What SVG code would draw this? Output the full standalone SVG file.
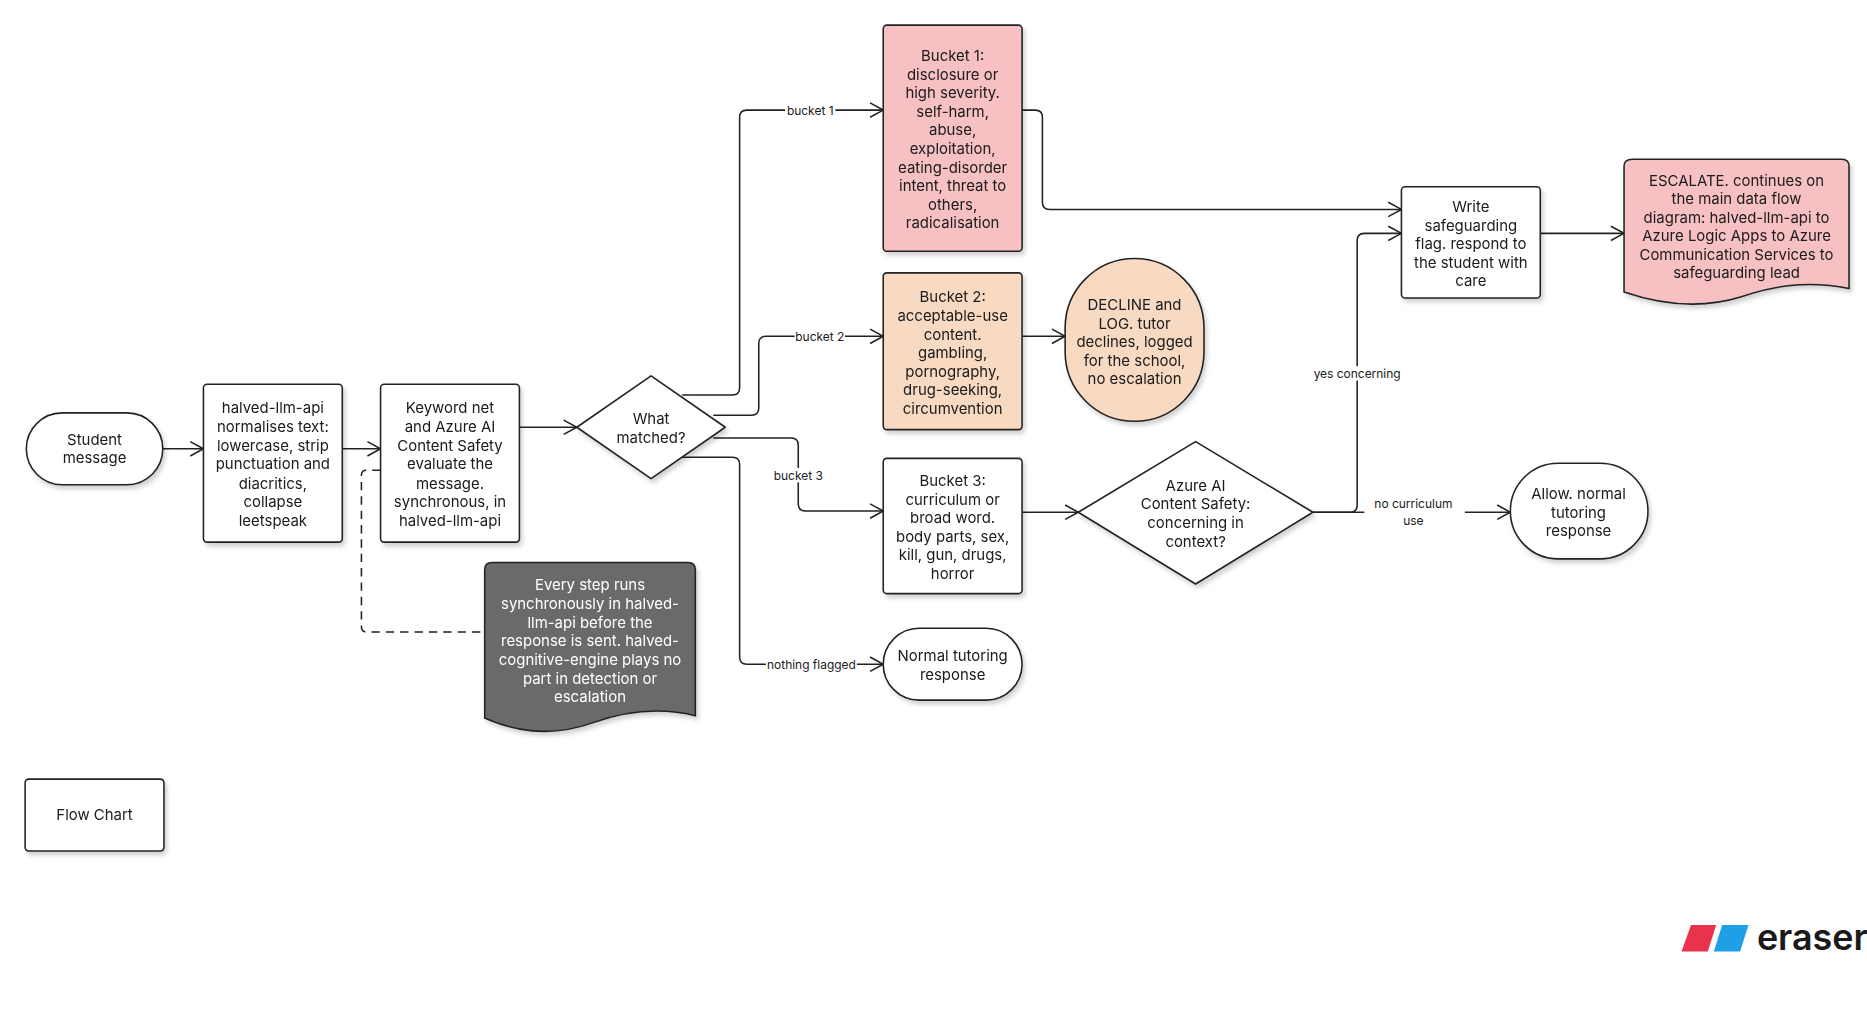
<svg xmlns="http://www.w3.org/2000/svg" width="1867" height="1026" viewBox="0 0 1867 1026">
<style>
.n{stroke:#222;stroke-width:1.3;}
.t{font-family:Inter,"Noto Sans",sans-serif;font-size:12.5px;fill:#1a1a1a;text-anchor:middle;dominant-baseline:central;}
.l{font-family:Inter,"Noto Sans",sans-serif;font-size:10px;fill:#1a1a1a;text-anchor:middle;dominant-baseline:central;}
.c{fill:none;stroke:#222;stroke-width:1.3;}
</style>
<defs>
<marker id="a" markerWidth="14" markerHeight="14" refX="12" refY="7" orient="auto" markerUnits="userSpaceOnUse"><path d="M1,1 L12,7 L1,13" fill="none" stroke="#222" stroke-width="1.3"/></marker>
<filter id="s" x="-10%" y="-10%" width="130%" height="130%"><feDropShadow dx="2" dy="3" stdDeviation="2" flood-color="#000" flood-opacity="0.18"/></filter>
</defs>
<rect width="1867" height="1026" fill="#fff"/>
<g transform="scale(1.19679)">
<g id="connectors">
<path class="c" d="M136,375 H170" marker-end="url(#a)"/>
<path class="c" d="M286,375 H318" marker-end="url(#a)"/>
<path class="c" d="M434,357 H482" marker-end="url(#a)"/>
<path class="c" d="M318,393 H306 Q302,393 302,397 V524 Q302,528 306,528 H405" stroke-dasharray="7,5"/>
<path class="c" d="M570,330 H612 Q618,330 618,324 V98 Q618,92 624,92 H738" marker-end="url(#a)"/>
<path class="c" d="M596,347 H628 Q634,347 634,341 V287 Q634,281 640,281 H738" marker-end="url(#a)"/>
<path class="c" d="M596,366 H661 Q667,366 667,372 V421 Q667,427 673,427 H738" marker-end="url(#a)"/>
<path class="c" d="M570,382 H612 Q618,382 618,388 V549 Q618,555 624,555 H738" marker-end="url(#a)"/>
<path class="c" d="M854,92 H865 Q871,92 871,98 V169 Q871,175 877,175 H1171" marker-end="url(#a)"/>
<path class="c" d="M854,281 H890" marker-end="url(#a)"/>
<path class="c" d="M854,428 H901" marker-end="url(#a)"/>
<path class="c" d="M1097,428 H1128 Q1134,428 1134,422 V201 Q1134,195 1140,195 H1171" marker-end="url(#a)"/>
<path class="c" d="M1097,428 H1140 M1224,428 H1262" marker-end="url(#a)"/>
<path class="c" d="M1287,195 H1357" marker-end="url(#a)"/>
<rect x="656" y="86" width="42" height="12" fill="#fff"/><text class="l" x="677" y="92">bucket 1</text>
<rect x="664" y="275" width="42" height="12" fill="#fff"/><text class="l" x="685" y="281">bucket 2</text>
<rect x="646" y="391" width="42" height="12" fill="#fff"/><text class="l" x="667" y="397">bucket 3</text>
<rect x="640" y="549" width="76" height="12" fill="#fff"/><text class="l" x="678" y="555">nothing flagged</text>
<rect x="1098" y="306" width="72" height="12" fill="#fff"/><text class="l" x="1134" y="312">yes concerning</text>
<text class="l" x="1181" y="421">no curriculum</text><text class="l" x="1181" y="435">use</text>
</g>
<g id="student" filter="url(#s)"><rect class="n" x="22" y="345" width="114" height="60" rx="30" fill="#fff"/><text class="t" x="79" y="368">Student</text><text class="t" x="79" y="383">message</text></g>
<g id="normalise" filter="url(#s)"><rect class="n" x="170" y="321" width="116" height="132" rx="3" fill="#fff"/>
<text class="t" x="228"><tspan x="228" y="341">halved-llm-api</tspan><tspan x="228" y="357">normalises text:</tspan><tspan x="228" y="372.5">lowercase, strip</tspan><tspan x="228" y="388">punctuation and</tspan><tspan x="228" y="404">diacritics,</tspan><tspan x="228" y="419.5">collapse</tspan><tspan x="228" y="435">leetspeak</tspan></text></g>
<g id="keyword" filter="url(#s)"><rect class="n" x="318" y="321" width="116" height="132" rx="3" fill="#fff"/>
<text class="t" x="376"><tspan x="376" y="341">Keyword net</tspan><tspan x="376" y="357">and Azure AI</tspan><tspan x="376" y="372.5">Content Safety</tspan><tspan x="376" y="388">evaluate the</tspan><tspan x="376" y="404">message.</tspan><tspan x="376" y="419.5">synchronous, in</tspan><tspan x="376" y="435">halved-llm-api</tspan></text></g>
<g id="matched" filter="url(#s)"><path class="n" d="M544,314 L606,357 L544,400 L482,357 Z" fill="#fff" stroke-linejoin="round"/><text class="t" x="544" y="350">What</text><text class="t" x="544" y="366">matched?</text></g>
<g id="bucket1" filter="url(#s)"><rect class="n" x="738" y="21" width="116" height="189" rx="3" fill="#f7c1c4"/>
<text class="t"><tspan x="796" y="47">Bucket 1:</tspan><tspan x="796" y="62.5">disclosure or</tspan><tspan x="796" y="78">high severity.</tspan><tspan x="796" y="93.5">self-harm,</tspan><tspan x="796" y="109">abuse,</tspan><tspan x="796" y="124.5">exploitation,</tspan><tspan x="796" y="140">eating-disorder</tspan><tspan x="796" y="155.5">intent, threat to</tspan><tspan x="796" y="171">others,</tspan><tspan x="796" y="186.5">radicalisation</tspan></text></g>
<g id="bucket2" filter="url(#s)"><rect class="n" x="738" y="228" width="116" height="131" rx="3" fill="#f8d9c1"/>
<text class="t"><tspan x="796" y="248">Bucket 2:</tspan><tspan x="796" y="264">acceptable-use</tspan><tspan x="796" y="279.5">content.</tspan><tspan x="796" y="295">gambling,</tspan><tspan x="796" y="310.5">pornography,</tspan><tspan x="796" y="326">drug-seeking,</tspan><tspan x="796" y="341.5">circumvention</tspan></text></g>
<g id="bucket3" filter="url(#s)"><rect class="n" x="738" y="383" width="116" height="113" rx="3" fill="#fff"/>
<text class="t"><tspan x="796" y="402">Bucket 3:</tspan><tspan x="796" y="417.5">curriculum or</tspan><tspan x="796" y="433">broad word.</tspan><tspan x="796" y="448.5">body parts, sex,</tspan><tspan x="796" y="464">kill, gun, drugs,</tspan><tspan x="796" y="479.5">horror</tspan></text></g>
<g id="normal" filter="url(#s)"><rect class="n" x="738" y="525" width="116" height="60" rx="30" fill="#fff"/><text class="t" x="796" y="548">Normal tutoring</text><text class="t" x="796" y="564">response</text></g>
<g id="decline" filter="url(#s)"><rect class="n" x="890" y="216" width="116" height="136" rx="58" fill="#f8d9c1"/>
<text class="t"><tspan x="948" y="255">DECLINE and</tspan><tspan x="948" y="270.5">LOG. tutor</tspan><tspan x="948" y="286">declines, logged</tspan><tspan x="948" y="301.5">for the school,</tspan><tspan x="948" y="317">no escalation</tspan></text></g>
<g id="azure" filter="url(#s)"><path class="n" d="M999,369 L1097,428 L999,488 L901,428 Z" fill="#fff" stroke-linejoin="round"/>
<text class="t"><tspan x="999" y="406">Azure AI</tspan><tspan x="999" y="421.5">Content Safety:</tspan><tspan x="999" y="437">concerning in</tspan><tspan x="999" y="452.5">context?</tspan></text></g>
<g id="write" filter="url(#s)"><rect class="n" x="1171" y="156" width="116" height="93" rx="3" fill="#fff"/>
<text class="t"><tspan x="1229" y="173">Write</tspan><tspan x="1229" y="188.5">safeguarding</tspan><tspan x="1229" y="204">flag. respond to</tspan><tspan x="1229" y="219.5">the student with</tspan><tspan x="1229" y="235">care</tspan></text></g>
<g id="escalate" filter="url(#s)"><path class="n" d="M1364,133 H1539 Q1545,133 1545,139 V241 Q1500,232 1455,248 Q1410,262 1357,244 V139 Q1357,133 1364,133 Z" fill="#f7c1c4"/>
<text class="t"><tspan x="1451" y="151">ESCALATE. continues on</tspan><tspan x="1451" y="166.5">the main data flow</tspan><tspan x="1451" y="182">diagram: halved-llm-api to</tspan><tspan x="1451" y="197.5">Azure Logic Apps to Azure</tspan><tspan x="1451" y="213">Communication Services to</tspan><tspan x="1451" y="228.5">safeguarding lead</tspan></text></g>
<g id="allow" filter="url(#s)"><rect class="n" x="1262" y="387" width="115" height="80" rx="40" fill="#fff"/>
<text class="t"><tspan x="1319" y="413">Allow. normal</tspan><tspan x="1319" y="428.5">tutoring</tspan><tspan x="1319" y="444">response</tspan></text></g>
<g id="note" filter="url(#s)"><path class="n" d="M411,470 H575 Q581,470 581,476 V598 Q540,588 495,604 Q450,620 405,600 V476 Q405,470 411,470 Z" fill="#6b6b6b"/>
<text class="t" style="fill:#fff"><tspan x="493" y="489">Every step runs</tspan><tspan x="493" y="505">synchronously in halved-</tspan><tspan x="493" y="520.5">llm-api before the</tspan><tspan x="493" y="536">response is sent. halved-</tspan><tspan x="493" y="551.5">cognitive-engine plays no</tspan><tspan x="493" y="567">part in detection or</tspan><tspan x="493" y="582.5">escalation</tspan></text></g>
<g id="legend" filter="url(#s)"><rect class="n" x="21" y="651" width="116" height="60" rx="3" fill="#fff"/><text class="t" x="79" y="681">Flow Chart</text></g>
<g id="logo"><path d="M1413,773 H1434 L1427,795 H1405 Z" fill="#e8334a"/><path d="M1439,773 H1461 L1454,795 H1432 Z" fill="#1fa0e6"/>
<text x="1468" y="794" font-family="Inter,'Noto Sans',sans-serif" font-size="30" font-weight="600" fill="#1a1a1a">eraser</text></g>
</g>
</svg>
